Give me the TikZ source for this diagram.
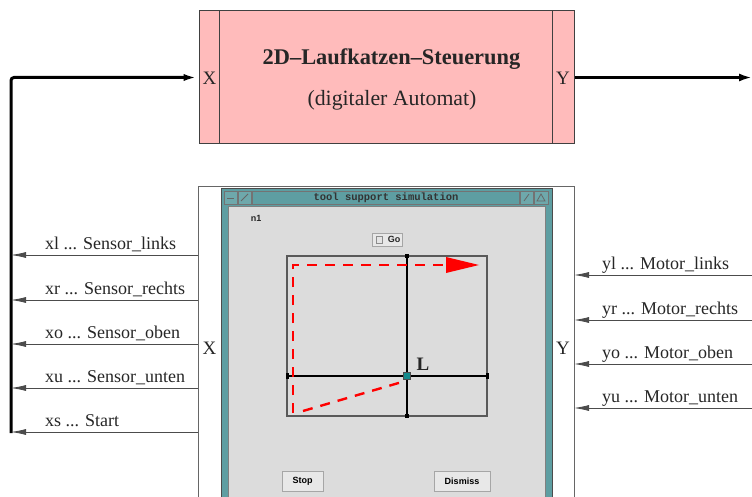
\documentclass[tikz,border=0pt]{standalone}
\usepackage{fontspec}
\setmainfont{Liberation Serif}
\newfontfamily\uisans{Liberation Sans}
\newfontfamily\uimono{Liberation Mono}
\usetikzlibrary{arrows.meta}
\definecolor{boxpink}{HTML}{FFBBBB}
\definecolor{frameteal}{HTML}{5E9EA2}
\definecolor{wingray}{HTML}{DCDCDC}
\definecolor{btngray}{HTML}{E8E8E8}
\definecolor{cursteal}{HTML}{138A8C}
\begin{document}
\begin{tikzpicture}[x=1pt,y=-1pt,
  lbl/.style={font=\fontsize{18}{20}\selectfont, anchor=base west, inner sep=0pt, text=black!85},
  port/.style={font=\fontsize{19}{21}\selectfont, inner sep=0pt, text=black!85},
  sig/.style={draw=black!70, line width=0.8pt, -{Latex[length=15pt,width=6pt]}},
  bus/.style={line width=3pt, -{Latex[length=15pt,width=7pt]}, rounded corners=3pt},
  outarr/.style={line width=2.5pt, -{Latex[length=13pt,width=8pt]}},
  uibtn/.style={draw=black!35, fill=btngray, inner sep=0pt, font=\uisans\bfseries\fontsize{9}{10}\selectfont},
  redpath/.style={red, line width=2.4pt, dash pattern=on 10pt off 8pt},
  tick/.style={fill=black, inner sep=0pt, minimum width=4pt, minimum height=4pt}]
\useasboundingbox (0,0) rectangle (752,497);
\clip (0,0) rectangle (752,497);

% ---------- controller box ----------
\node[draw=black!75, fill=boxpink, line width=1pt, minimum width=375pt, minimum height=133pt, inner sep=0pt] (ctrl) at (386.5,77.5) {};
\draw[black!75, line width=1pt] ([xshift=21pt]ctrl.north west) -- ([xshift=21pt]ctrl.south west);
\draw[black!75, line width=1pt] ([xshift=-22pt]ctrl.north east) -- ([xshift=-22pt]ctrl.south east);
\node[font=\bfseries\fontsize{22.4}{25}\selectfont, text=black!85] (title) at (391.5,59) {2D\textendash Laufkatzen\textendash Steuerung};
\node[font=\fontsize{21.8}{24}\selectfont, text=black!85] (sub) at (392,100) {(digitaler Automat)};
\node[port] (cx) at (209.5,78) {X};
\node[port] (cy) at (563,78) {Y};

% ---------- bus and output ----------
\coordinate (busb) at (11,433);
\draw[bus] (busb) |- (ctrl.west);
\coordinate (outend) at (752,77.5);
\draw[outarr] (ctrl.east) -- (outend);

% ---------- simulation frame ----------
\node[draw=black!60, line width=0.8pt, minimum width=376pt, minimum height=340pt, inner sep=0pt] (sim) at (386,356) {};
% window
\fill[frameteal] (221,188) rectangle (552,520);
\draw[black!70, line width=0.6pt] (221,188) rectangle (552,520);
\fill[wingray] (228,206) rectangle (545,520);
\draw[black!50, line width=0.5pt] (228,206) rectangle (545,520);
% title bar
\draw[black!55, line width=0.5pt, fill=frameteal!90!white] (224,191) rectangle (237,204);
\draw[black!55, line width=0.5pt, fill=frameteal!90!white] (238,191) rectangle (251,204);
\draw[black!55, line width=0.5pt, fill=frameteal] (252,191) rectangle (519,204);
\draw[black!55, line width=0.5pt, fill=frameteal!90!white] (520,191) rectangle (533,204);
\draw[black!55, line width=0.5pt, fill=frameteal!90!white] (534,191) rectangle (548,204);
\draw[black!60, line width=0.8pt] (227,198) -- (234,198);
\draw[black!60, line width=0.8pt] (241,201) -- (248,194);
\draw[black!60, line width=0.8pt] (524,201) -- (529,194);
\draw[black!60, line width=0.8pt] (537,201) -- (541,194) -- (545,201) -- cycle;
\node[font=\uimono\bfseries\fontsize{10.5}{11}\selectfont, text=black!80, inner sep=0pt] (wtitle) at (386,198) {tool support simulation};
\node[font=\uisans\bfseries\fontsize{9}{10}\selectfont, text=black!85, inner sep=0pt] (n1) at (256,218) {n1};
% Go button
\node[uibtn, minimum width=30pt, minimum height=13pt] (go) at (387,239.5) {};
\draw[black!45, fill=white!90!black] (376,236) rectangle (382,243);
\node[font=\uisans\bfseries\fontsize{9}{10}\selectfont, text=black!85, inner sep=0pt] (gotxt) at (394,239) {Go};
% Stop / Dismiss
\node[uibtn, minimum width=41pt, minimum height=20pt] (stop) at (302.5,481) {Stop};
\node[uibtn, minimum width=56pt, minimum height=20pt] (dismiss) at (462,481) {Dismiss};

% plot area
\node[draw=black!65, line width=1.2pt, minimum width=200pt, minimum height=160pt, inner sep=0pt] (plot) at (387,336) {};
\draw[black, line width=1.6pt] (407,256) -- (407,416);
\draw[black, line width=1.6pt] (287,376) -- (487,376);
\node[tick] at (407,256) {};
\node[tick] at (407,416) {};
\node[tick, minimum width=3pt, minimum height=6pt] at (287,376) {};
\node[tick, minimum width=3pt, minimum height=6pt] at (487,376) {};
\draw[redpath] (293,413) -- (293,265) -- (447,265);
\fill[red] (446,257) -- (479,265) -- (446,273) -- cycle;
\draw[redpath] (303,411) -- (402,382);
\node[draw=black!70, fill=cursteal, line width=0.6pt, minimum width=7pt, minimum height=7pt, inner sep=0pt] (cursor) at (407,376) {};
\node[font=\bfseries\fontsize{19}{21}\selectfont, text=black!85, inner sep=0pt] (L) at (423,364) {L};

\node[port] (sx) at (209.5,348) {X};
\node[port] (sy) at (563,348) {Y};

% ---------- input signals (left) ----------
\foreach \yy/\nm/\txt in {255/xl/{xl ... Sensor\_links}, 300/xr/{xr ... Sensor\_rechts}, 344/xo/{xo ... Sensor\_oben}, 388/xu/{xu ... Sensor\_unten}, 432/xs/{xs ... Start}}{
  \coordinate (\nm S) at (198,\yy);
  \coordinate (\nm B) at (11,\yy);
  \draw[sig] (\nm S) -- (\nm B);
  \node[lbl] (\nm) at (45,\yy-6) {\txt};
}
% ---------- output signals (right) ----------
\foreach \yy/\nm/\txt in {275/yl/{yl ... Motor\_links}, 320/yr/{yr ... Motor\_rechts}, 364/yo/{yo ... Motor\_oben}, 408/yu/{yu ... Motor\_unten}}{
  \coordinate (\nm S) at (752,\yy);
  \coordinate (\nm B) at (574,\yy);
  \draw[sig] (\nm S) -- (\nm B);
  \node[lbl] (\nm) at (602,\yy-6) {\txt};
}
\end{tikzpicture}
\end{document}
